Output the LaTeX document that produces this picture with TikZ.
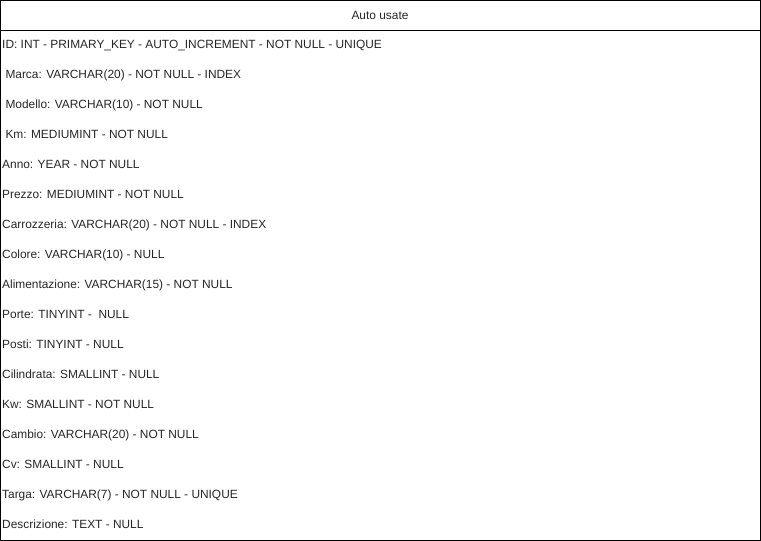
\documentclass[tikz,border=0pt]{standalone}
\usepackage{fontspec}
\setmainfont{Liberation Sans}
\begin{document}
\begin{tikzpicture}[x=1pt,y=-1pt,
  frame/.style={draw=black,line width=1pt},
  field/.style={anchor=base west,inner sep=0pt,font=\fontsize{11.9}{14}\selectfont,text=black!85},
  title/.style={anchor=base,inner sep=0pt,font=\fontsize{11.9}{14}\selectfont,text=black!85}]
\useasboundingbox (0,0) rectangle (761,541);
\draw[frame] (0.5,0.5) rectangle (760,540);
\draw[frame] (0.5,30) -- (760,30);
\node[title] (h) at (380,19.5) {Auto usate};
\node[field] (f1) at (2,48.5) {ID: INT - PRIMARY\_KEY - AUTO\_INCREMENT - NOT NULL - UNIQUE};
\node[field] (f2) at (2,78.5) {\ Marca: VARCHAR(20) - NOT NULL - INDEX};
\node[field] (f3) at (2,108.5) {\ Modello: VARCHAR(10) - NOT NULL};
\node[field] (f4) at (2,138.5) {\ Km: MEDIUMINT - NOT NULL};
\node[field] (f5) at (2,168.5) {Anno: YEAR - NOT NULL};
\node[field] (f6) at (2,198.5) {Prezzo: MEDIUMINT - NOT NULL};
\node[field] (f7) at (2,228.5) {Carrozzeria: VARCHAR(20) - NOT NULL - INDEX};
\node[field] (f8) at (2,258.5) {Colore: VARCHAR(10) - NULL};
\node[field] (f9) at (2,288.5) {Alimentazione: VARCHAR(15) - NOT NULL};
\node[field] (f10) at (2,318.5) {Porte: TINYINT - \ NULL};
\node[field] (f11) at (2,348.5) {Posti: TINYINT - NULL};
\node[field] (f12) at (2,378.5) {Cilindrata: SMALLINT - NULL};
\node[field] (f13) at (2,408.5) {Kw: SMALLINT - NOT NULL};
\node[field] (f14) at (2,438.5) {Cambio: VARCHAR(20) - NOT NULL};
\node[field] (f15) at (2,468.5) {Cv: SMALLINT - NULL};
\node[field] (f16) at (2,498.5) {Targa: VARCHAR(7) - NOT NULL - UNIQUE};
\node[field] (f17) at (2,528.5) {Descrizione: TEXT - NULL};
\end{tikzpicture}
\end{document}
